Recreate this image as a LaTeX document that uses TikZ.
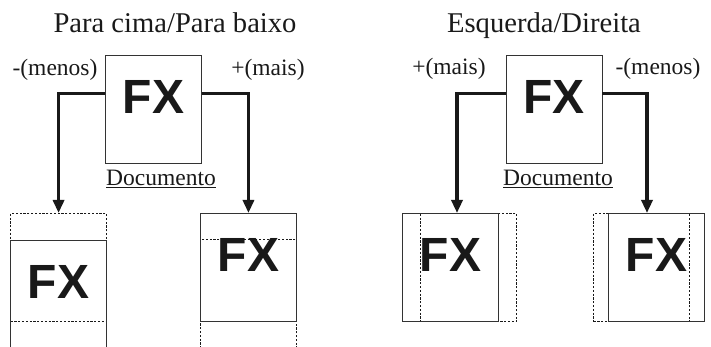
\documentclass[tikz,border=0pt]{standalone}
\usepackage{fontspec}
\setmainfont{Liberation Serif}
\newfontfamily\fxsans{Liberation Sans}
\usetikzlibrary{arrows.meta}

\tikzset{
  page/.style={draw=black!80, line width=0.9pt, minimum width=96pt, minimum height=108pt, inner sep=0pt, anchor=north west},
  frame/.style={page, draw=black!90, line width=1.1pt, dash pattern=on 2.2pt off 1.6pt},
  fx/.style={font=\fxsans\bfseries\fontsize{48}{48}\selectfont, text=black!90, inner sep=0pt},
  conn/.style={line width=3.2pt, black!90, -{Triangle[width=11pt,length=13pt]}},
  lbl/.style={font=\fontsize{23.5}{24}\selectfont, text=black!90, anchor=base, inner sep=0pt},
  ttl/.style={font=\fontsize{28.6}{29}\selectfont, text=black!90, anchor=base, inner sep=0pt}
}

\begin{document}
\begin{tikzpicture}[x=1pt, y=-1pt]
  \useasboundingbox (0,0) rectangle (711,347);

  % Para cima/Para baixo
  \node[ttl] (titleA) at (175,33) {Para cima/Para baixo};
  \node[page] (docA) at (105,55) {};
  \node[fx] (fxA) at ([yshift=12pt]docA.center) {FX};
  \node[lbl] (minusA) at (55,76) {-(menos)};
  \node[lbl] (plusA) at (268,76) {+(mais)};
  \node[lbl] (nameA) at (161,186) {\underline{Documento}};

  \node[frame] (frameAl) at (10,213) {};
  \node[page] (pageAl) at (10,240) {};
  \node[fx] (fxAl) at ([yshift=12pt]pageAl.center) {FX};

  \node[frame] (frameAr) at (200,239) {};
  \node[page] (pageAr) at (200,213) {};
  \node[fx] (fxAr) at ([yshift=12pt]pageAr.center) {FX};

  \draw[conn] ([yshift=16pt]docA.west) -| (frameAl.north);
  \draw[conn] ([yshift=16pt]docA.east) -| (pageAr.north);

  % Esquerda/Direita
  \node[ttl] (titleB) at (544,33) {Esquerda/Direita};
  \node[page] (docB) at (505.5,55) {};
  \node[fx] (fxB) at ([yshift=12pt]docB.center) {FX};
  \node[lbl] (plusB) at (449,75) {+(mais)};
  \node[lbl] (minusB) at (658,75) {-(menos)};
  \node[lbl] (nameB) at (558,186) {\underline{Documento}};

  \node[frame] (frameBl) at (420,213) {};
  \node[page] (pageBl) at (402,213) {};
  \node[fx] (fxBl) at ([yshift=12pt]pageBl.center) {FX};

  \node[frame] (frameBr) at (593,213) {};
  \node[page] (pageBr) at (608,213) {};
  \node[fx] (fxBr) at ([yshift=12pt]pageBr.center) {FX};

  \coordinate (tipBl) at (457,213);
  \coordinate (tipBr) at (647,213);
  \draw[conn] ([yshift=16pt]docB.west) -| (tipBl);
  \draw[conn] ([yshift=16pt]docB.east) -| (tipBr);
\end{tikzpicture}
\end{document}
